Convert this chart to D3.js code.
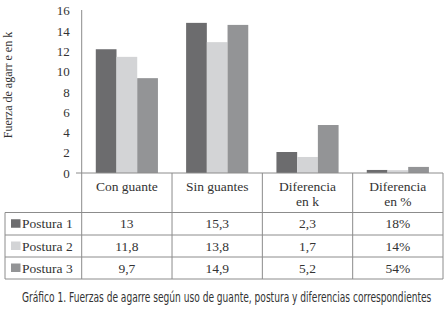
<!DOCTYPE html>
<html>
<head>
<meta charset="utf-8">
<script src="https://cdn.jsdelivr.net/npm/d3@7"></script>
<style>
  body { margin: 0; background: #fff; }
  svg { display: block; }
</style>
</head>
<body>
<div id="chart"></div>
<script>
// categories and series
const categories = ["Con guante", "Sin guantes", "Diferencia en k", "Diferencia en %"];
const headerLines = [["Con guante"], ["Sin guantes"], ["Diferencia", "en k"], ["Diferencia", "en %"]];
const series = ["Postura 1", "Postura 2", "Postura 3"];

// bar heights as drawn in the picture
const postura1 = [12.2, 14.8, 2.07, 0.3];
const postura2 = [11.45, 12.9, 1.58, 0.28];
const postura3 = [9.35, 14.6, 4.73, 0.6];

// data table text
const tabla1 = ["13", "15,3", "2,3", "18%"];
const tabla2 = ["11,8", "13,8", "1,7", "14%"];
const tabla3 = ["9,7", "14,9", "5,2", "54%"];

const yTicks = [0, 2, 4, 6, 8, 10, 12, 14, 16];
const colors = ["#6c6c6e", "#d3d4d6", "#939496"];

const W = 445, H = 310;
const left = 81.7, right = 443, y0 = 173, yTop = 10.7;
const rowY = [212.5, 235, 257, 279];
const lineColor = "#8c8c8c";
const textColor = "#333";
const serif = "'Liberation Serif', 'DejaVu Serif', serif";

const svg = d3.select("#chart").append("svg")
  .attr("width", W).attr("height", H);

const x0 = d3.scaleBand().domain(categories).range([left, right]).padding(0);
const x1 = d3.scaleBand().domain(series).range([0, x0.bandwidth()])
  .paddingInner(0).paddingOuter(0.68);
const y = d3.scaleLinear().domain([0, 16]).range([y0, yTop]);

const values = [postura1, postura2, postura3];
const barData = [];
series.forEach((s, i) => {
  categories.forEach((c, j) => barData.push({ s: s, c: c, v: values[i][j], i: i }));
});

// bars
svg.append("g").selectAll("rect")
  .data(barData)
  .join("rect")
  .attr("x", d => x0(d.c) + x1(d.s))
  .attr("y", d => y(d.v))
  .attr("width", x1.bandwidth())
  .attr("height", d => y(0) - y(d.v))
  .attr("fill", d => colors[d.i]);

// Y axis labels
const yAxis = svg.append("g")
  .attr("transform", `translate(${left},0)`)
  .call(d3.axisLeft(y).tickValues(yTicks).tickSize(0).tickPadding(12));
yAxis.attr("font-family", null).attr("font-size", null);
yAxis.select(".domain").remove();
yAxis.selectAll("text")
  .style("font-family", serif)
  .style("font-size", "13px")
  .attr("fill", textColor);

// axis title
svg.append("text")
  .attr("transform", `translate(12,85) rotate(-90)`)
  .attr("text-anchor", "middle")
  .style("font-family", serif)
  .style("font-size", "12px")
  .attr("fill", textColor)
  .text("Fuerza de agarr e en k");

// grid of table
const g = svg.append("g").attr("stroke", lineColor).attr("stroke-width", 1);
g.append("line").attr("x1", left).attr("x2", left).attr("y1", 10).attr("y2", rowY[3]);
g.append("line").attr("x1", 76).attr("x2", right).attr("y1", y0).attr("y2", y0);
categories.forEach(c => {
  const xe = x0(c) + x0.bandwidth();
  g.append("line").attr("x1", xe).attr("x2", xe).attr("y1", y0).attr("y2", rowY[3]);
});
rowY.forEach(r => {
  g.append("line").attr("x1", 5).attr("x2", right).attr("y1", r).attr("y2", r);
});
g.append("line").attr("x1", 5).attr("x2", 5).attr("y1", rowY[0]).attr("y2", rowY[3]);

// header text
categories.forEach((c, j) => {
  headerLines[j].forEach((t, k) => {
    svg.append("text")
      .attr("x", x0(c) + x0.bandwidth() / 2)
      .attr("y", 190.5 + k * 15.5)
      .attr("text-anchor", "middle")
      .style("font-family", serif)
      .style("font-size", "13.5px")
      .attr("fill", textColor)
      .text(t);
  });
});

// table rows
const tablas = [tabla1, tabla2, tabla3];
series.forEach((s, i) => {
  const mid = (rowY[i] + rowY[i + 1]) / 2;
  svg.append("rect")
    .attr("x", 11).attr("y", mid - 4.5)
    .attr("width", 9.5).attr("height", 8.5)
    .attr("fill", colors[i]);
  svg.append("text")
    .attr("x", 22).attr("y", mid + 4.5)
    .style("font-family", serif).style("font-size", "13.5px")
    .attr("fill", textColor)
    .text(s);
  categories.forEach((c, j) => {
    svg.append("text")
      .attr("x", x0(c) + x0.bandwidth() / 2)
      .attr("y", mid + 4.5)
      .attr("text-anchor", "middle")
      .style("font-family", serif).style("font-size", "13.5px")
      .attr("fill", textColor)
      .text(tablas[i][j]);
  });
});

// caption, squeezed horizontally to the reference width
const cap = svg.append("text")
  .attr("x", 0).attr("y", 0)
  .style("font-family", "'DejaVu Sans Condensed', 'DejaVu Sans', sans-serif")
  .style("font-size", "14px")
  .attr("fill", "#333")
  .text("Gráfico 1. Fuerzas de agarre según uso de guante, postura y diferencias correspondientes");
const capW = cap.node().getComputedTextLength();
const sx = 410 / capW;
cap.attr("transform", `translate(22,302) scale(${sx},1)`);
</script>
</body>
</html>
